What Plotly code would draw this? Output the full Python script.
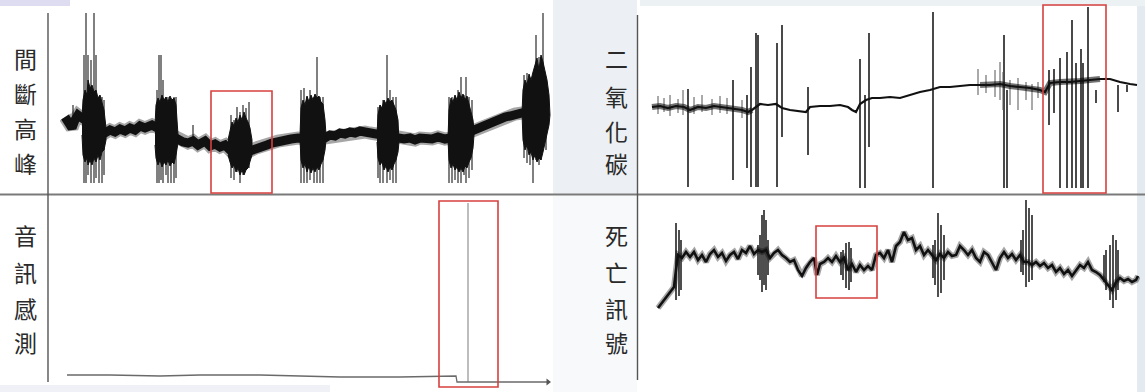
import plotly.graph_objects as go

W, H = 1145, 392

# ---------------- 間斷高峰 : intermittent peaks ----------------
peak_base_t = [5, 8, 12, 15, 18, 22, 34, 45, 50, 55, 60, 65, 70, 75, 80, 85, 92, 106, 118, 123,
               128, 133, 138, 145, 150, 155, 160, 165, 170, 175, 180, 185, 190, 196, 202, 207,
               212, 218, 225, 231, 238, 252, 265, 270, 275, 280, 285, 290, 295, 300, 305, 310,
               315, 328, 338, 344, 350, 355, 360, 366, 372, 378, 385, 400, 413, 419, 425, 430,
               435, 440, 445, 450, 455, 462, 475, 488]
peak_base_v = [23, 18, 12, 20, 25, 22, 15, 7, 10, 8, 11, 9, 12, 10, 14, 12, 15, 7, 0, -2,
               -3, -1, -5, -1, -6, -4, -7, -5, -10, -8, -10, -12, -11, -8, -7, -5,
               -3, -1, 0, 1, 2, 0, 2, 5, 4, 7, 6, 8, 7, 9, 8, 7,
               7, 4, 3, 1, 2, 0, 2, 1, 1, 3, 1, 4, 10, 12, 15, 17,
               19, 21, 23, 24, 26, 27, 28, 28]

# dense burst cores: sample positions with upper / lower envelope
peak_core_t = [[22, 23, 25, 27, 28, 30, 32, 34, 36, 38, 40, 42, 44, 46],
               [95, 96, 98, 100, 102, 104, 106, 108, 110, 112, 114, 116, 118],
               [168, 170, 172, 174, 176, 178, 180, 182, 184, 186, 188, 190, 192],
               [240, 241, 243, 245, 247, 249, 251, 253, 255, 257, 259, 261, 263, 265, 266],
               [317, 318, 320, 322, 324, 326, 328, 330, 332, 334, 336, 338, 339],
               [388, 389, 391, 393, 395, 397, 399, 401, 403, 405, 407, 409, 411, 413, 414],
               [462, 463, 465, 467, 469, 471, 473, 475, 477, 479, 481, 483, 485, 487, 489, 490]]
peak_core_top = [[22, 40, 50, 45, 60, 52, 55, 48, 50, 42, 45, 38, 30, 12],
                 [15, 35, 42, 38, 45, 40, 43, 38, 44, 40, 42, 35, 5],
                 [0, 10, 18, 14, 22, 18, 25, 20, 28, 22, 18, 12, 0],
                 [5, 32, 40, 35, 44, 38, 45, 40, 46, 42, 44, 38, 36, 20, 5],
                 [5, 25, 35, 32, 40, 36, 42, 38, 40, 34, 30, 20, 5],
                 [2, 30, 42, 38, 45, 40, 48, 42, 46, 40, 44, 36, 30, 20, 10],
                 [27, 50, 60, 55, 66, 60, 68, 75, 82, 70, 85, 78, 70, 60, 45, 30]]
peak_core_bot = [[5, -15, -22, -18, -25, -20, -25, -18, -22, -15, -20, -12, -10, 0],
                 [-5, -18, -25, -20, -27, -22, -25, -20, -26, -22, -24, -15, -3],
                 [-15, -22, -28, -25, -32, -28, -35, -30, -35, -30, -28, -22, -15],
                 [0, -20, -28, -24, -32, -26, -33, -28, -32, -27, -30, -24, -20, -10, 0],
                 [-2, -18, -25, -22, -30, -26, -32, -27, -30, -24, -20, -12, -2],
                 [0, -20, -28, -24, -30, -27, -32, -28, -32, -26, -28, -22, -18, -8, 5],
                 [27, 0, -10, -5, -15, -12, -20, -15, -22, -18, -20, -12, -5, 5, 15, 25]]

# individual excursions inside and around the bursts
peak_spike_t = [13, 133,
                24, 26, 28, 31, 34, 36, 39, 42, 44,
                97, 99, 101, 103, 106, 108, 111, 114, 116,
                171, 174, 177, 180, 183, 186, 189,
                241, 244, 247, 250, 254, 257, 260, 263,
                318, 320, 323, 327, 330, 333, 336,
                389, 392, 395, 398, 401, 404, 406, 409, 412,
                464, 467, 470, 473, 476, 479, 481, 483, 486]
peak_spike_hi = [35, 15,
                 85, 127, 85, 80, 127, 85, 43, 43, 40,
                 50, 85, 85, 60, 43, 43, 40, 43, 43,
                 25, 20, 33, 28, 35, 32, 38,
                 50, 52, 43, 50, 43, 83, 43, 43,
                 33, 35, 40, 85, 50, 43, 43,
                 43, 43, 43, 50, 63, 45, 63, 43, 40,
                 65, 67, 45, 50, 105, 83, 83, 127, 60]
peak_spike_lo = [10, -5,
                 -43, -43, -35, -43, -43, -38, -43, -43, -35,
                 -43, -43, -40, -43, -35, -43, -43, -43, -38,
                 -38, -40, -32, -43, -35, -30, -28,
                 -43, -43, -43, -40, -43, -43, -43, -43,
                 -38, -43, -43, -43, -40, -43, -43,
                 -43, -43, -40, -43, -43, -35, -43, -38, -30,
                 -18, -23, -25, -43, -20, -25, -20, 0, -10]

# ---------------- 二氧化碳 : carbon dioxide ----------------
co2_base_t = [12, 20, 28, 36, 44, 50, 58, 66, 74, 82, 90, 95, 102, 108, 112, 120, 128, 136, 142,
              150, 160, 166, 170, 180, 190, 200, 208, 212, 216, 220, 226, 232, 240, 250, 260,
              270, 280, 290, 294, 300, 310, 320, 330, 340, 350, 360, 370, 380, 390, 400, 405,
              410, 420, 430, 440, 450, 460, 470, 480, 490, 497]
co2_base_v = [-7, -6, -8, -6, -7, -10, -7, -8, -6, -7, -8, -9, -10, -12, -10, -4, -5, -4, -8,
              -10, -11, -12, -7, -6, -6, -5, -7, -10, -12, -4, 0, 2, 2, 3, 2,
              5, 8, 10, 11, 13, 13, 14, 15, 15, 15, 16, 14, 13, 12, 10, 8,
              17, 18, 18, 19, 20, 21, 21, 18, 16, 15]
# stretches where the CO2 trace is visibly jittery
co2_noisy = [(12, 112), (335, 460)]
co2_tick_t = [18, 24, 30, 38, 43, 54, 62, 72, 80, 87, 102,
              338, 346, 355, 360, 363, 370, 378, 386, 392, 398]
co2_tick_hi = [4, 2, 5, 1, 10, 3, 5, 1, 4, 2, 0,
               31, 25, 30, 38, 28, 20, 22, 18, 16, 18]
co2_tick_lo = [-14, -12, -16, -13, -15, -14, -12, -15, -13, -14, -18,
               5, 7, 3, 0, -10, -5, -10, 0, -10, 2]
co2_spike_t = [48, 93, 107, 111, 116, 118, 137, 142, 168, 220, 225, 229, 293,
               364, 367, 409, 414, 420, 427, 432, 436, 441, 443, 448, 456, 478, 487]
co2_spike_hi = [11, 20, 5, 33, 67, 65, 57, 75, 13, 41, 5, 67, 88,
                65, 10, 30, 31, 42, 48, 80, 37, 51, 37, 93, 10, 15, 15]
co2_spike_lo = [-87, -80, -68, -87, -87, -87, -87, -37, -55, -88, -88, -47, -88,
                -88, -88, -25, -13, -88, -88, -88, -88, -88, -88, -88, -3, -12, 8]

# ---------------- 音訊感測 : audio sensing ----------------
audio_t = [7, 50, 100, 140, 200, 240, 280, 340, 396, 397, 488]
audio_v = [5, 5, 4, 5, 5, 4, 3, 3, 4, -2, -2]
audio_event_t = [408]
audio_event_hi = [177]
audio_event_lo = [-2]

# ---------------- 死亡訊號 : death signal ----------------
death_t = [18, 22, 26, 30, 34, 36, 38, 42, 46, 50, 54, 58, 62, 66, 70, 74, 78, 82, 86, 90, 94, 98,
           102, 106, 110, 114, 118, 122, 126, 130, 134, 138, 142, 146, 150, 154, 158, 162, 166,
           170, 174, 177, 180, 184, 188, 192, 196, 200, 204, 208, 212, 216, 220, 224, 228, 232,
           236, 240, 244, 248, 252, 256, 260, 264, 268, 272, 276, 280, 284, 288, 292, 296, 300,
           304, 308, 312, 316, 320, 324, 328, 332, 336, 340, 344, 348, 352, 356, 360, 364, 368,
           372, 376, 380, 384, 388, 392, 396, 400, 404, 408, 412, 416, 420, 424, 428, 432, 436,
           440, 444, 448, 452, 456, 460, 464, 468, 472, 476, 480, 484, 488, 492, 496, 498]
death_v = [-48, -43, -38, -32, -27, -10, 5, 2, 8, 3, 8, 0, 5, -2, 6, 10, 3, 7, -1, 5, 8, 1,
           10, 7, 14, 6, 10, 8, 10, 2, 7, 10, 5, 2, -2, 0, -10, -16, -8,
           -2, 2, -15, -4, -2, 2, -2, 4, -2, 2, -10, -4, -12, -5, -10, -6, -10,
           5, 7, 2, 10, -2, 14, 18, 28, 20, 22, 10, 14, 5, 10, 5, 0, 6,
           2, 8, 4, 5, 14, 10, 5, 10, 2, -2, 8, 5, -2, -10, 2, 8, 2,
           6, 0, 5, -2, -2, -5, -2, -6, -3, -8, -5, -12, -8, -14, -10, -16, -10,
           -5, -8, -2, -10, -12, -15, -20, -25, -30, -22, -18, -21, -19, -22, -20, -16]
death_spike_t = [36, 39, 41, 118, 120, 122, 124, 126, 128, 201, 203, 206, 209, 211,
                 293, 295, 298, 301, 304, 381, 383, 386, 389, 392, 464, 466, 470, 473, 476, 478]
death_spike_hi = [37, 30, 20, 15, 25, 45, 50, 40, 20, 8, 10, 17, 18, 12,
                  15, 20, 47, 35, 25, 20, 30, 60, 52, 45, 5, 10, 15, 25, 20, 10]
death_spike_lo = [-40, -36, -30, -15, -20, -32, -25, -30, -15, -15, -20, -28, -30, -22,
                  -18, -25, -37, -33, -20, -12, -15, -27, -22, -20, -22, -30, -40, -48, -40, -30]

# highlighted windows (t0, t1, v0, v1) per panel
box_peak = (151, 212, -53, 49)
box_co2 = (403, 466, -93, 95)
box_audio = (379, 438, -7, 179)
box_death = (176, 237, -38, 34)

INK = "#111111"
RED = "rgb(214,64,62)"


def xdom(x0, x1):
    return [x0 / W, x1 / W]


def ydom(y0, y1):
    return [1 - y1 / H, 1 - y0 / H]


def segments(ts, his, los):
    xs, ys = [], []
    for t, hi, lo in zip(ts, his, los):
        xs += [t, t, None]
        ys += [hi, lo, None]
    return xs, ys


fig = go.Figure()

# --- intermittent peaks panel (x / y) ---
sx, sy = segments(peak_spike_t, peak_spike_hi, peak_spike_lo)
fig.add_trace(go.Scatter(x=sx, y=sy, mode="lines", line=dict(color="#4a4a4a", width=1.4),
                         xaxis="x", yaxis="y", hoverinfo="skip"))
fig.add_trace(go.Scatter(x=peak_base_t, y=peak_base_v, mode="lines",
                         line=dict(color="rgba(0,0,0,0.35)", width=13),
                         xaxis="x", yaxis="y", hoverinfo="skip"))
fig.add_trace(go.Scatter(x=peak_base_t, y=peak_base_v, mode="lines",
                         line=dict(color=INK, width=9),
                         xaxis="x", yaxis="y", hoverinfo="skip"))
for ct, ctop, cbot in zip(peak_core_t, peak_core_top, peak_core_bot):
    fig.add_trace(go.Scatter(x=ct + ct[::-1], y=ctop + cbot[::-1], mode="lines", fill="toself",
                             fillcolor=INK, line=dict(color=INK, width=1),
                             xaxis="x", yaxis="y", hoverinfo="skip"))

# --- carbon dioxide panel (x2 / y2) ---
sx, sy = segments(co2_spike_t, co2_spike_hi, co2_spike_lo)
fig.add_trace(go.Scatter(x=sx, y=sy, mode="lines", line=dict(color="#1c1c1c", width=1.6),
                         xaxis="x2", yaxis="y2", hoverinfo="skip"))
sx, sy = segments(co2_tick_t, co2_tick_hi, co2_tick_lo)
fig.add_trace(go.Scatter(x=sx, y=sy, mode="lines", line=dict(color="#555555", width=1),
                         xaxis="x2", yaxis="y2", hoverinfo="skip"))
for lo_t, hi_t in co2_noisy:
    pts = [(t, v) for t, v in zip(co2_base_t, co2_base_v) if lo_t <= t <= hi_t]
    fig.add_trace(go.Scatter(x=[p[0] for p in pts], y=[p[1] for p in pts], mode="lines",
                             line=dict(color="rgba(0,0,0,0.55)", width=6),
                             xaxis="x2", yaxis="y2", hoverinfo="skip"))
fig.add_trace(go.Scatter(x=co2_base_t, y=co2_base_v, mode="lines",
                         line=dict(color=INK, width=2.2),
                         xaxis="x2", yaxis="y2", hoverinfo="skip"))

# --- audio sensing panel (x3 / y3) ---
sx, sy = segments(audio_event_t, audio_event_hi, audio_event_lo)
fig.add_trace(go.Scatter(x=sx, y=sy, mode="lines", line=dict(color="#9a9a9a", width=1.3),
                         xaxis="x3", yaxis="y3", hoverinfo="skip"))
fig.add_trace(go.Scatter(x=audio_t, y=audio_v, mode="lines",
                         line=dict(color="#6a6a6a", width=1.3),
                         xaxis="x3", yaxis="y3", hoverinfo="skip"))
fig.add_trace(go.Scatter(x=[audio_t[-1]], y=[audio_v[-1]], mode="markers",
                         marker=dict(symbol="triangle-right", size=6, color="#555555"),
                         xaxis="x3", yaxis="y3", hoverinfo="skip"))

# --- death signal panel (x4 / y4) ---
sx, sy = segments(death_spike_t, death_spike_hi, death_spike_lo)
fig.add_trace(go.Scatter(x=sx, y=sy, mode="lines", line=dict(color="#222222", width=1.6),
                         xaxis="x4", yaxis="y4", hoverinfo="skip"))
fig.add_trace(go.Scatter(x=death_t, y=death_v, mode="lines",
                         line=dict(color="rgba(0,0,0,0.35)", width=6),
                         xaxis="x4", yaxis="y4", hoverinfo="skip"))
fig.add_trace(go.Scatter(x=death_t, y=death_v, mode="lines",
                         line=dict(color=INK, width=2.6),
                         xaxis="x4", yaxis="y4", hoverinfo="skip"))

hidden = dict(visible=False, fixedrange=True)
fig.update_layout(
    width=W, height=H, margin=dict(l=0, r=0, t=0, b=0),
    paper_bgcolor="white", plot_bgcolor="rgba(0,0,0,0)", showlegend=False,
    xaxis=dict(domain=xdom(60, 555), range=[0, 495], anchor="y", **hidden),
    yaxis=dict(domain=ydom(5, 194), range=[-54, 135], anchor="x", **hidden),
    xaxis2=dict(domain=xdom(640, 1140), range=[0, 500], anchor="y2", **hidden),
    yaxis2=dict(domain=ydom(0, 194), range=[-94, 100], anchor="x2", **hidden),
    xaxis3=dict(domain=xdom(60, 555), range=[0, 495], anchor="y3", **hidden),
    yaxis3=dict(domain=ydom(196, 392), range=[-12, 184], anchor="x3", **hidden),
    xaxis4=dict(domain=xdom(640, 1140), range=[0, 500], anchor="y4", **hidden),
    yaxis4=dict(domain=ydom(196, 392), range=[-132, 64], anchor="x4", **hidden),
)


def prect(x0, y0, x1, y1, color, layer="below"):
    return dict(type="rect", xref="paper", yref="paper", x0=x0 / W, x1=x1 / W,
                y0=1 - y1 / H, y1=1 - y0 / H, fillcolor=color, line=dict(width=0), layer=layer)


def pline(x0, y0, x1, y1, color, width):
    return dict(type="line", xref="paper", yref="paper", x0=x0 / W, x1=x1 / W,
                y0=1 - y0 / H, y1=1 - y1 / H, line=dict(color=color, width=width), layer="above")


shapes = [
    # slide background tints around the pasted traces
    prect(553, 0, 637, 194, "#ecf0f4"),
    prect(1137, 0, 1145, 392, "#e4ebf0"),
    prect(640, 0, 1145, 6, "#ecf1f4"),
    prect(0, 385, 330, 392, "#eff1f6"),
    prect(0, 0, 70, 6, "#dedcf0"),
    prect(553, 196, 637, 392, "#f7f9fa"),
    # frame lines between the panels
    pline(0, 194.5, W, 194.5, "#7a7a7a", 2),
    pline(48, 13, 48, 382, "#555555", 1.4),
    pline(637.5, 15, 637.5, 380, "#555555", 1.4),
]
for (x0, x1, y0, y1), xr, yr in [(box_peak, "x", "y"), (box_co2, "x2", "y2"),
                                 (box_audio, "x3", "y3"), (box_death, "x4", "y4")]:
    shapes.append(dict(type="rect", xref=xr, yref=yr, x0=x0, x1=x1, y0=y0, y1=y1,
                       line=dict(color=RED, width=1.6), fillcolor="rgba(0,0,0,0)", layer="above"))
fig.update_layout(shapes=shapes)

labels = [("間斷高峰", 25, [58, 93, 128, 163]),
          ("二氧化碳", 617, [58, 96, 131, 163]),
          ("音訊感測", 25, [235, 272, 308, 342]),
          ("死亡訊號", 617, [235, 272, 308, 342])]
annots = []
for word, cx, ys in labels:
    for ch, cy in zip(word, ys):
        annots.append(dict(text=ch, x=cx / W, y=1 - cy / H, xref="paper", yref="paper",
                           showarrow=False, xanchor="center", yanchor="middle",
                           font=dict(family="Noto Sans CJK TC", size=23, color="#2a2a2a")))
fig.update_layout(annotations=annots)

fig.write_html("out.html")
